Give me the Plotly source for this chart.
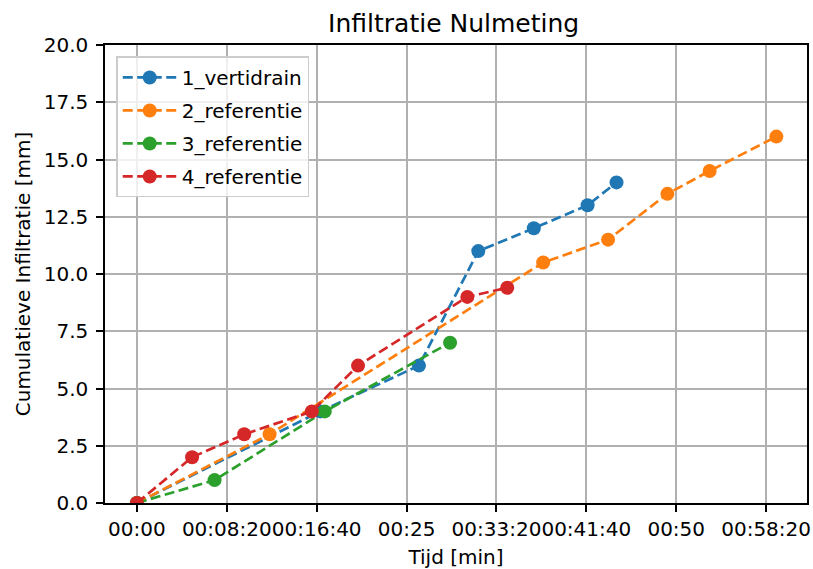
import plotly.graph_objects as go

# Elapsed time in seconds and cumulative infiltration in mm per measurement location
t_vertidrain = [0, 1020, 1569, 1899, 2208, 2507, 2668]
v_vertidrain = [0.0, 4.0, 6.0, 11.0, 12.0, 13.0, 14.0]

t_ref2 = [0, 738, 2260, 2621, 2951, 3186, 3557]
v_ref2 = [0.0, 3.0, 10.5, 11.5, 13.5, 14.5, 16.0]

t_ref3 = [0, 432, 1045, 1742]
v_ref3 = [0.0, 1.0, 4.0, 7.0]

t_ref4 = [0, 307, 597, 973, 1230, 1838, 2060]
v_ref4 = [0.0, 2.0, 3.0, 4.0, 6.0, 9.0, 9.4]

series_names = ["1_vertidrain", "2_referentie", "3_referentie", "4_referentie"]
series_colors = ["#1f77b4", "#ff7f0e", "#2ca02c", "#d62728"]

x_tickvals = [0, 500, 1000, 1500, 2000, 2500, 3000, 3500]
x_ticktext = ["00:00", "00:08:20", "00:16:40", "00:25", "00:33:20",
              "00:41:40", "00:50", "00:58:20"]
y_tickvals = [0, 2.5, 5, 7.5, 10, 12.5, 15, 17.5, 20]

FONT = "DejaVu Sans"

fig = go.Figure()
for name, color, xs, ys in zip(
    series_names,
    series_colors,
    [t_vertidrain, t_ref2, t_ref3, t_ref4],
    [v_vertidrain, v_ref2, v_ref3, v_ref4],
):
    fig.add_trace(go.Scatter(
        x=xs, y=ys, name=name, legendgroup=name, mode="lines+markers",
        line=dict(color=color, width=2.7, dash="10px,4.5px"),
        marker=dict(color=color, size=14),
    ))

axis_common = dict(
    showline=True, linecolor="black", linewidth=1.5, mirror=True,
    ticks="outside", ticklen=7, tickwidth=1.5, tickcolor="black",
    showgrid=True, gridcolor="#b0b0b0", gridwidth=1.5,
    zeroline=False, automargin=False,
    tickfont=dict(family=FONT, size=20, color="black"),
    title_font=dict(family=FONT, size=20, color="black"),
)

fig.update_xaxes(
    range=[-177.5, 3727.5], tickvals=x_tickvals, ticktext=x_ticktext,
    tickangle=0, title_text="Tijd [min]", title_standoff=10, **axis_common,
)
fig.update_yaxes(
    range=[0, 20], tickvals=y_tickvals, tickformat=".1f",
    title_text="Cumulatieve Infiltratie [mm]", title_standoff=8,
    ticklabelstandoff=4, **axis_common,
)

fig.update_layout(
    width=813, height=569,
    margin=dict(l=105, r=6, t=45, b=66),
    paper_bgcolor="white", plot_bgcolor="white",
    title=dict(text="Infiltratie Nulmeting", x=0.558, xanchor="center",
               y=0.96, yanchor="middle",
               font=dict(family=FONT, size=25, color="black")),
    legend=dict(
        x=0.016, y=0.975, xanchor="left", yanchor="top",
        bgcolor="rgba(255,255,255,0.8)", bordercolor="#cccccc", borderwidth=1.5,
        font=dict(family=FONT, size=20, color="black"),
        tracegroupgap=4, itemwidth=54,
    ),
    showlegend=True,
)

fig.write_html("out.html")
